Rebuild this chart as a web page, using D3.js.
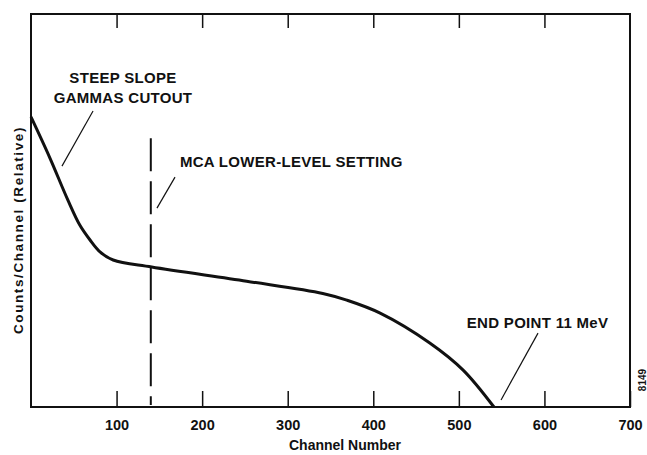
<!DOCTYPE html>
<html lang="en">
<head>
    <meta charset="UTF-8">
    <title>Counts per Channel</title>
    <script src="https://d3js.org/d3.v7.min.js"></script>
    <style>
        body { margin: 0; background: #fff; }
        text { font-family: "Liberation Sans", Arial, Helvetica, sans-serif; font-weight: bold; fill: #111; }
    </style>
</head>
<body>
    <div id="chart"></div>

    <script>
        // spectrum (relative counts, 0-100)
        const channels = [0, 22, 43, 57, 69, 81, 96, 141, 252, 341, 369, 408, 466, 505, 541];
        const counts = [73.8, 63.4, 52.7, 46.3, 42.5, 39.4, 37.4, 35.6, 32.0, 28.9, 27.2, 23.9, 16.3, 9.4, 0];
        const tickValues = [100, 200, 300, 400, 500, 600, 700];
        const lowerLevel = 140;

        const width = 647, height = 455;
        const margin = { top: 14, right: 17, bottom: 48, left: 31 };
        const innerW = width - margin.left - margin.right;
        const innerH = height - margin.top - margin.bottom;

        const svg = d3.select("#chart")
            .append("svg")
            .attr("width", width)
            .attr("height", height);

        const g = svg.append("g")
            .attr("transform", `translate(${margin.left},${margin.top})`);

        const x = d3.scaleLinear().domain([0, 700]).range([0, innerW]);
        const y = d3.scaleLinear().domain([0, 100]).range([innerH, 0]);

        // bottom axis, ticks pointing inward
        const xAxis = g.append("g")
            .attr("transform", `translate(0,${innerH})`)
            .call(d3.axisBottom(x).tickValues(tickValues).tickSize(-16).tickPadding(13));
        xAxis.select(".domain").remove();
        xAxis.selectAll("line").attr("stroke", "#111").attr("stroke-width", 1.5);
        xAxis.selectAll("text").attr("font-size", 14.5).attr("fill", "#111");

        // top axis, ticks only
        const topAxis = g.append("g")
            .call(d3.axisTop(x).tickValues(tickValues.slice(0, -1)).tickSize(-14).tickFormat(""));
        topAxis.select(".domain").remove();
        topAxis.selectAll("line").attr("stroke", "#111").attr("stroke-width", 1.5);

        // frame
        g.append("rect")
            .attr("width", innerW)
            .attr("height", innerH)
            .attr("fill", "none")
            .attr("stroke", "#111")
            .attr("stroke-width", 2);

        // MCA lower level marker
        g.append("line")
            .attr("x1", x(lowerLevel)).attr("x2", x(lowerLevel))
            .attr("y1", y(68.4)).attr("y2", y(0.5))
            .attr("stroke", "#111")
            .attr("stroke-width", 2)
            .attr("stroke-dasharray", "33,10");

        // spectrum curve
        const line = d3.line()
            .x((d, i) => x(channels[i]))
            .y(d => y(d))
            .curve(d3.curveCatmullRom.alpha(0.5));

        g.append("path")
            .datum(counts)
            .attr("fill", "none")
            .attr("stroke", "#111")
            .attr("stroke-width", 3)
            .attr("d", line);

        // annotations (data coords)
        const notes = [
            { lines: ["STEEP SLOPE", "GAMMAS CUTOUT"], cx: 107.5, cy: 82.4, anchor: "middle", from: [72.5, 75.3], to: [36.2, 61.3] },
            { lines: ["MCA LOWER-LEVEL SETTING"], cx: 174, cy: 61.1, anchor: "start", from: [168.3, 58.5], to: [147.2, 50.6] },
            { lines: ["END POINT 11 MeV"], cx: 592, cy: 20.1, anchor: "middle", from: [592.5, 18.8], to: [549.3, 1.8] }
        ];

        notes.forEach(n => {
            n.lines.forEach((t, i) => {
                g.append("text")
                    .attr("x", x(n.cx))
                    .attr("y", y(n.cy) + i * 20)
                    .attr("text-anchor", n.anchor)
                    .attr("font-size", 15)
                    .attr("letter-spacing", 0.3)
                    .text(t);
            });
            g.append("line")
                .attr("x1", x(n.from[0])).attr("y1", y(n.from[1]))
                .attr("x2", x(n.to[0])).attr("y2", y(n.to[1]))
                .attr("stroke", "#111")
                .attr("stroke-width", 1.2);
        });

        // axis titles
        svg.append("text")
            .attr("x", 345)
            .attr("y", 450)
            .attr("text-anchor", "middle")
            .attr("font-size", 14)
            .text("Channel Number");

        svg.append("text")
            .attr("transform", "translate(23,230) rotate(-90)")
            .attr("text-anchor", "middle")
            .attr("font-size", 13.5)
            .attr("letter-spacing", 1.6)
            .text("Counts/Channel  (Relative)");

        // figure number
        svg.append("text")
            .attr("transform", "translate(646,380) rotate(-90)")
            .attr("text-anchor", "middle")
            .attr("font-size", 10)
            .attr("font-weight", "normal")
            .text("8149");
    </script>
</body>
</html>
